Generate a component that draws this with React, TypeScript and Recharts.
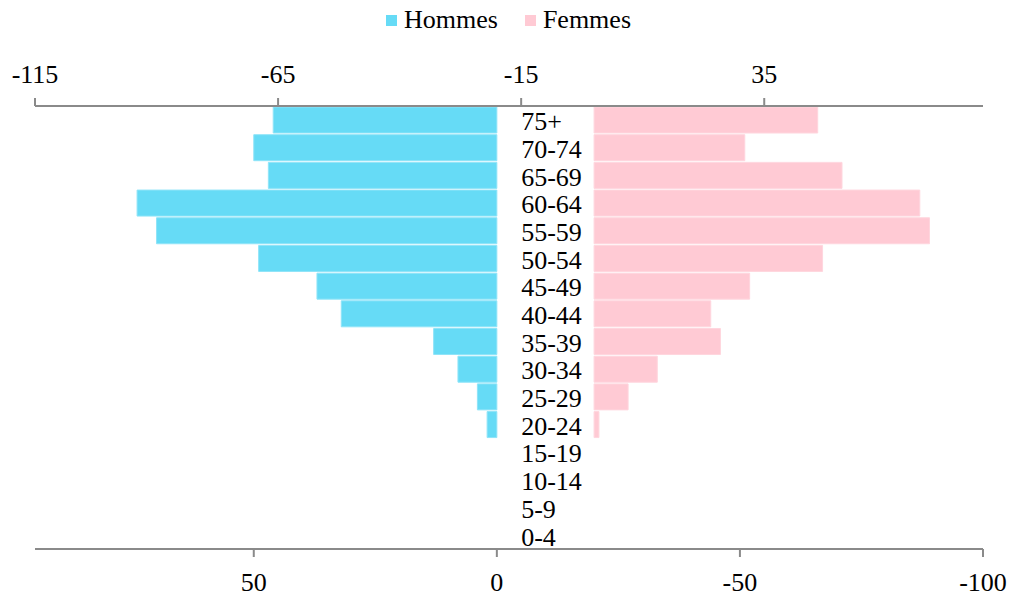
import { BarChart, Bar, XAxis, YAxis, Legend } from "recharts"

const ages = ["75+", "70-74", "65-69", "60-64", "55-59", "50-54", "45-49", "40-44", "35-39", "30-34", "25-29", "20-24", "15-19", "10-14", "5-9", "0-4"]
const hommes = [46, 50, 47, 74, 70, 49, 37, 32, 13, 8, 4, 2, 0, 0, 0, 0]
const femmes = [46, 31, 51, 67, 69, 47, 32, 24, 26, 13, 7, 1, 0, 0, 0, 0]
const topTicks = [-115, -65, -15, 35]
const bottomTicks = [50, 0, -50, -100]

const data = ages.map((age, i) => ({ age, hommes: hommes[i], femmes: femmes[i] }))

const FONT = "'Liberation Serif', 'Times New Roman', serif"
const CYAN = "#66dbf6"
const PINK = "#ffcad4"
const AXIS = "#8a8a8a"

const W = 1011
const H = 596
const M = { top: 0, right: 28, bottom: 0, left: 34 }
const TOP_DOMAIN = [-115, 80]
const BOTTOM_DOMAIN = [-100, 95]
// age labels start at -15 on the top axis (plot starts at left margin + 1px y axis)
const plotLeft = M.left + 1
const labelX = plotLeft + ((-15 - TOP_DOMAIN[0]) / (TOP_DOMAIN[1] - TOP_DOMAIN[0])) * (W - plotLeft - M.right)

function AgeTick(props: any) {
    const { y, payload } = props
    return (
        <text x={labelX} y={y} dy="0.4em" textAnchor="start" fontSize={26} fontFamily={FONT} fill="#000">
            {payload.value}
        </text>
    )
}

function AxisTick(props: any) {
    const { x, y, payload, orientation } = props
    return (
        <text x={x} y={y} dy={orientation === "top" ? 0 : "0.71em"} textAnchor="middle" fontSize={26} fontFamily={FONT} fill="#000">
            {payload.value}
        </text>
    )
}

function LegendBox() {
    const item = (color: string, label: string, first: boolean) => (
        <div style={{ display: "flex", alignItems: "center", marginLeft: first ? 0 : 27 }}>
            <span style={{ width: 11, height: 11, background: color, display: "inline-block", marginRight: 7 }} />
            <span>{label}</span>
        </div>
    )
    return (
        <div style={{ display: "flex", justifyContent: "center", alignItems: "center", height: 30, fontFamily: FONT, fontSize: 26, color: "#000", lineHeight: "30px", position: "relative", top: 5 }}>
            {item(CYAN, "Hommes", true)}
            {item(PINK, "Femmes", false)}
        </div>
    )
}

export default function App() {
    const axisLine = { stroke: AXIS, strokeWidth: 2 }
    return (
        <>
            <style>{"body { margin: 0; overflow: hidden; }"}</style>
            <BarChart width={W} height={H} data={data} layout="vertical" margin={M} barCategoryGap={1} style={{ fontFamily: FONT }}>
                <Legend verticalAlign="top" align="center" content={<LegendBox />} />
                <XAxis
                    xAxisId="top"
                    orientation="top"
                    type="number"
                    domain={TOP_DOMAIN}
                    ticks={topTicks}
                    allowDataOverflow
                    height={76}
                    axisLine={axisLine}
                    tickLine={axisLine}
                    tickSize={8}
                    tickMargin={15}
                    tick={<AxisTick orientation="top" />}
                />
                <XAxis
                    xAxisId="bottom"
                    orientation="bottom"
                    type="number"
                    domain={BOTTOM_DOMAIN}
                    ticks={bottomTicks}
                    reversed
                    allowDataOverflow
                    height={47}
                    axisLine={axisLine}
                    tickLine={axisLine}
                    tickSize={8}
                    tickMargin={16}
                    tick={<AxisTick orientation="bottom" />}
                />
                <YAxis yAxisId="m" type="category" dataKey="age" hide />
                <YAxis yAxisId="f" type="category" dataKey="age" width={1} axisLine={false} tickLine={false} tick={<AgeTick />} interval={0} />
                <Bar name="Hommes" dataKey="hommes" xAxisId="bottom" yAxisId="m" fill={CYAN} stroke="#8fe4f8" strokeWidth={1} isAnimationActive={false} />
                <Bar name="Femmes" dataKey="femmes" xAxisId="top" yAxisId="f" fill={PINK} stroke="#ffd6de" strokeWidth={1} isAnimationActive={false} />
            </BarChart>
        </>
    )
}
